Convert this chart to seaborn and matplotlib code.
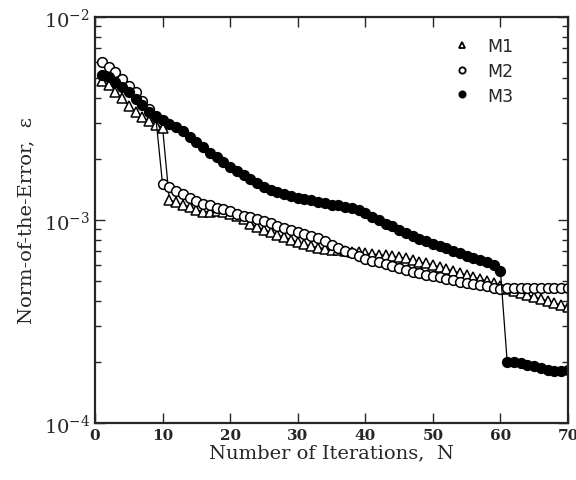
# Convergence of the error norm for the three methods M1, M2, M3 (log scale)

import numpy as np
import pandas as pd
import seaborn as sns
import matplotlib.pyplot as plt
from matplotlib.lines import Line2D

iterations = list(range(1, 71))

# values (x 1e-3)
m1 = [4.86, 4.63, 4.26, 3.97, 3.66, 3.42, 3.20, 3.09, 2.95, 2.85,
      1.26, 1.22, 1.19, 1.16, 1.12, 1.10, 1.10, 1.11, 1.10, 1.07,
      1.05, 1.01, 0.96, 0.925, 0.896, 0.870, 0.844, 0.822, 0.800, 0.776,
      0.759, 0.742, 0.731, 0.723, 0.714, 0.709, 0.703, 0.698, 0.693, 0.685,
      0.680, 0.675, 0.670, 0.665, 0.657, 0.648, 0.638, 0.618, 0.611, 0.600,
      0.587, 0.574, 0.561, 0.548, 0.536, 0.524, 0.512, 0.501, 0.489, 0.475,
      0.456, 0.447, 0.437, 0.427, 0.418, 0.408, 0.399, 0.390, 0.381, 0.372]

m2 = [5.98, 5.65, 5.34, 4.95, 4.59, 4.26, 3.87, 3.52, 3.20, 1.50,
      1.45, 1.39, 1.34, 1.29, 1.24, 1.20, 1.18, 1.15, 1.13, 1.11,
      1.07, 1.05, 1.03, 1.01, 0.985, 0.963, 0.937, 0.916, 0.896, 0.877,
      0.857, 0.837, 0.815, 0.785, 0.753, 0.725, 0.703, 0.685, 0.662, 0.643,
      0.631, 0.618, 0.605, 0.591, 0.578, 0.565, 0.554, 0.546, 0.538, 0.530,
      0.522, 0.512, 0.504, 0.497, 0.491, 0.484, 0.477, 0.471, 0.464, 0.459,
      0.460, 0.461, 0.462, 0.460, 0.461, 0.462, 0.461, 0.460, 0.461, 0.462]

m3 = [5.18, 5.05, 4.77, 4.51, 4.26, 3.94, 3.69, 3.42, 3.27, 3.12,
      2.97, 2.86, 2.75, 2.55, 2.41, 2.28, 2.15, 2.04, 1.92, 1.83,
      1.75, 1.67, 1.59, 1.53, 1.46, 1.41, 1.38, 1.35, 1.32, 1.29,
      1.27, 1.25, 1.23, 1.21, 1.19, 1.18, 1.16, 1.15, 1.12, 1.08,
      1.04, 1.00, 0.96, 0.93, 0.896, 0.863, 0.837, 0.806, 0.785, 0.764,
      0.745, 0.725, 0.703, 0.685, 0.668, 0.652, 0.638, 0.623, 0.600, 0.562,
      0.200, 0.199, 0.197, 0.194, 0.190, 0.186, 0.182, 0.180, 0.181, 0.183]

df = pd.DataFrame({
    'N': iterations * 3,
    'err': np.array(m1 + m2 + m3) * 1e-3,
    'method': ['M1'] * 70 + ['M2'] * 70 + ['M3'] * 70,
})

sns.set_style('ticks')
plt.rcParams['font.family'] = ['DejaVu Serif']
plt.rcParams['mathtext.fontset'] = 'dejavuserif'

fig = plt.figure(figsize=(5.76, 4.81), dpi=100)
ax = fig.add_axes([95 / 576, 1 - 424 / 481, 473 / 576, 406 / 481])

styles = {
    'M1': dict(marker='^', markerfacecolor='white', markersize=6.5),
    'M2': dict(marker='o', markerfacecolor='white', markersize=7),
    'M3': dict(marker='o', markerfacecolor='black', markersize=7),
}
for name in ['M1', 'M2', 'M3']:
    sns.lineplot(data=df[df['method'] == name], x='N', y='err', ax=ax,
                 color='black', linewidth=0.9, markeredgecolor='black',
                 markeredgewidth=1.1, legend=False, **styles[name])

ax.set_yscale('log')
ax.set_xlim(0, 70)
ax.set_ylim(1e-4, 1e-2)
ax.set_xticks(range(0, 71, 10))
ax.tick_params(which='both', direction='in', top=True, right=True, width=1)
ax.tick_params(which='major', length=7, labelsize=11)
ax.tick_params(which='minor', length=4)
ax.tick_params(axis='y', which='major', labelsize=14)
for lab in ax.get_xticklabels():
    lab.set_fontweight('bold')
for s in ax.spines.values():
    s.set_linewidth(1.6)

ax.set_xlabel('Number of Iterations,  N', fontsize=14, labelpad=1)
ax.set_ylabel('Norm-of-the-Error,  ε', fontsize=14, labelpad=6)

handles = [Line2D([], [], linestyle='none', color='black', markeredgecolor='black',
                  markeredgewidth=1.3, marker=styles[k]['marker'],
                  markerfacecolor=styles[k]['markerfacecolor'], markersize=4.5)
           for k in ['M1', 'M2', 'M3']]
ax.legend(handles, ['M1', 'M2', 'M3'], loc='upper left', bbox_to_anchor=(0.72, 0.99),
          frameon=False, handlelength=1.2, handletextpad=0.9, labelspacing=0.4,
          prop={'family': 'DejaVu Sans', 'size': 12.5})

plt.savefig('out.png', dpi=100)
